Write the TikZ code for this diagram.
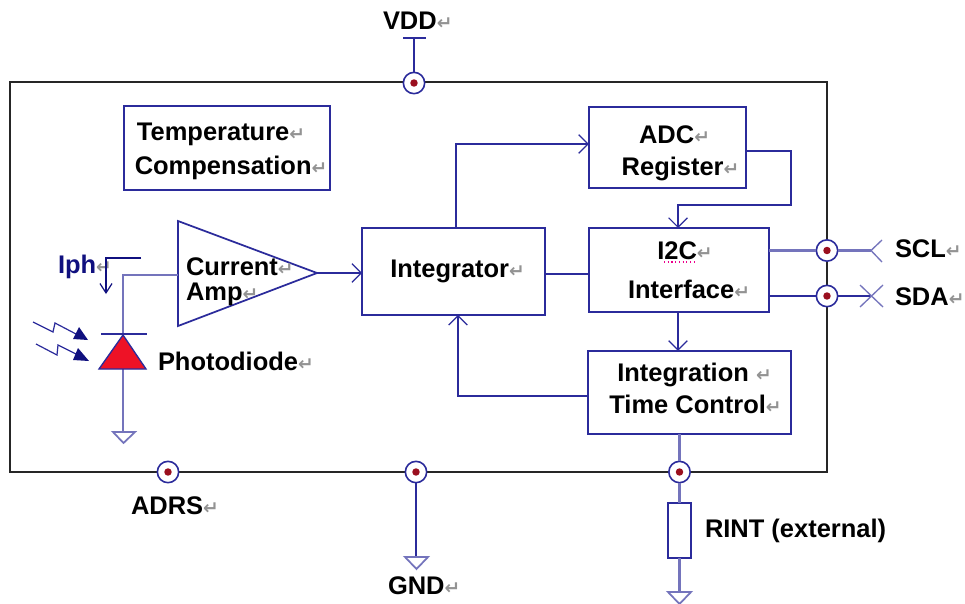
\documentclass[tikz,border=0pt]{standalone}
\usepackage{fontspec}
\setmainfont{Liberation Sans}
\newfontfamily\retfont{DejaVu Sans}
\usetikzlibrary{arrows.meta,shapes.geometric}
\definecolor{wire}{HTML}{2B2B9B}
\definecolor{wirepale}{HTML}{7474BC}
\definecolor{navy}{HTML}{10107F}
\definecolor{frame}{HTML}{262626}
\definecolor{pindot}{HTML}{9A0F1E}
\definecolor{diode}{HTML}{EE1226}
\newcommand{\rt}{{\retfont\fontsize{14pt}{14pt}\selectfont\color{gray!85}↵}}
\newcommand{\nudge}[1]{\hspace*{#1pt}}
\newcommand{\tall}[1]{\rule{0pt}{#1pt}}
\newcommand{\deep}[1]{\rule[-#1pt]{0pt}{#1pt}}
\tikzset{
  x=0.75pt,y=-0.75pt,
  lbl/.style={font=\bfseries\fontsize{19.1pt}{25pt}\selectfont,text=black,inner sep=0pt,outer sep=0pt,align=center},
  blk/.style={draw=wire,line width=1.4pt,fill=white,lbl,minimum width=#1},
  wireline/.style={draw=wire,line width=1.3pt},
  paleline/.style={draw=wirepale,line width=2pt},
  openarrow/.style={-{Straight Barb[length=7pt,width=14pt,line width=0.9pt]}},
  smallarrow/.style={-{Straight Barb[length=7pt,width=9pt,line width=0.9pt]}},
  pin/.style={circle,draw=wire,line width=1.2pt,fill=white,minimum size=16pt,inner sep=0pt,outer sep=0pt},
  gndtri/.style={draw=wirepale,line width=1.3pt,fill=white,line join=miter},
  lightbolt/.style={draw=wire,line width=0.9pt},
  lighthead/.style={fill=navy,draw=none},
}
\begin{document}
\begin{tikzpicture}
\useasboundingbox (0,0) rectangle (965,604);
\fill[white] (0,0) rectangle (965,604);
% chip outline
\draw[frame,line width=1.6pt] (10,82) rectangle (827,472);
% blocks
\node[blk=154.5pt,minimum height=63pt] (temp) at (227,148) {\tall{17.8}Temperature\rt\hspace*{9pt}\\[0.5pt]\nudge{6}Compensation\rt};
\node[blk=118pt,minimum height=61pt] (adc) at (667.5,147.5) {\tall{22.3}\nudge{10.5}ADC\rt\\[-1pt]\nudge{19.5}Register\rt};
\node[blk=137pt,minimum height=65pt] (integ) at (453.5,271.5) {\nudge{6}Integrator\rt};
\node[blk=135pt,minimum height=63pt] (i2c) at (679,270) {\nudge{9}I2C\rt\\[4.25pt]\nudge{15}Interface\rt};
\node[blk=152pt,minimum height=62.5pt] (itc) at (689.5,392.5) {\nudge{7.5}Integration \rt\\[-1pt]\nudge{9}Time Control\rt\deep{6}};
\node[draw=wire,line width=1.4pt,fill=white,minimum width=17pt,minimum height=41pt,inner sep=0pt,outer sep=0pt] (rint) at (679.5,530.5) {};
% amplifier
\coordinate (ampA) at (178,221);
\coordinate (ampB) at (178,326);
\coordinate (ampC) at (317,273);
\draw[draw=wire,line width=1.3pt,line join=miter] (ampA) -- (ampC) -- (ampB) -- cycle;
\node[lbl,anchor=west,align=left] (amp) at (186,282) {Current\rt\\[-6.5pt]Amp\rt};
% pins
\node[pin] (pvdd) at (414,83) {};
\node[pin] (pscl) at (827,250.5) {};
\node[pin] (psda) at (827,296) {};
\node[pin] (padrs) at (168,472) {};
\node[pin] (pgnd) at (416,472) {};
\node[pin] (print) at (679.5,472) {};
\foreach \p in {pvdd,pscl,psda,padrs,pgnd,print}
  \fill[pindot] (\p.center) circle (2.8pt);
% free ends and ports
\coordinate (vddtop) at (414,38);
\coordinate (sclend) at (871,250.5);
\coordinate (sdaend) at (872,296);
\coordinate (gndA) at (416,557);
\coordinate (gndB) at (679.5,592);
\coordinate (gndC) at (123,432);
\coordinate (iphport) at (123,275);
\coordinate (dtop) at (123,335);
\coordinate (dbot) at (123,369);
% top-level labels
\node[lbl,anchor=west] (vddl) at (383,21) {VDD\rt};
\node[lbl,anchor=west] (sclt) at (895,249) {SCL\rt};
\node[lbl,anchor=west] (sdat) at (895,297) {SDA\rt};
\node[lbl,anchor=west] (adrs) at (131,506) {ADRS\rt};
\node[lbl,anchor=west] (gndt) at (388,586) {GND\rt};
\node[lbl,anchor=west] (rintt) at (705,531) {RINT (external)};
\node[lbl,anchor=west] (pd) at (158,361) {Photodiode\rt};
\node[lbl,anchor=west,text=navy] (iph) at (58,267) {Iph{\rt}};
% VDD
\draw[wireline] (pvdd) -- (vddtop);
\draw[wireline] (403,38) -- (426,38);
% block connectors
\draw[wireline,openarrow] (ampC) -- (integ.west |- ampC);
\draw[wireline] (integ.east |- 0,274) -- (i2c.west |- 0,274);
\draw[wireline,openarrow] (integ.north -| 456,0) |- (adc.west |- 0,144);
\draw[wireline,openarrow] (adc.east |- 0,151) -| (791,205) -| (i2c.north -| 678,0);
\draw[wireline,openarrow] (i2c.south -| 678,0) -- (itc.north -| 678,0);
\draw[wireline,openarrow] (itc.west |- 0,396) -| (integ.south -| 458,0);
\draw[paleline] (itc.south -| 679.5,0) -- (print);
% right pins
\draw[paleline] (i2c.east |- 0,250.5) -- (pscl);
\draw[paleline] (pscl) -- (sclend);
\draw[wirepale,line width=1pt] (882,240) -- (sclend) -- (882,262);
\draw[wireline] (i2c.east |- 0,296) -- (psda) -- (sdaend);
\draw[wirepale,line width=1pt] (860,285) -- (883,307) (860,307) -- (883,285);
% bottom pins
\draw[wireline] (pgnd) -- (gndA);
\draw[gndtri] (405,557) -- (428,557) -- (416.5,569) -- cycle;
\draw[paleline] (print) -- (rint);
\draw[paleline] (rint) -- (gndB);
\draw[gndtri] (668,592) -- (691,592) -- (679.5,604) -- cycle;
% photodiode
\draw[paleline] (ampA |- iphport) -- (iphport) -- (dtop);
\draw[paleline] (dbot) -- (gndC);
\draw[gndtri] (113,432) -- (135,432) -- (123.5,443) -- cycle;
\draw[draw=wire,line width=1pt,fill=diode,line join=miter] (123,335) -- (146,369) -- (99,369) -- cycle;
\draw[wire,line width=1.1pt] (101,334) -- (147,334);
% Iph arrow
\draw[navy,line width=1pt,smallarrow] (141,258) -| (106,294);
% light
\draw[lightbolt] (33,322) -- (53,332) -- (55,323) -- (76,334);
\fill[lighthead] (73,339) -- (79,327) -- (88,340) -- cycle;
\draw[lightbolt] (36,344) -- (57,355) -- (58,345) -- (76,354);
\fill[lighthead] (73,360) -- (78,348) -- (89,361) -- cycle;
% spell-check mark
\draw[magenta,line width=0.8pt,dotted] (664,262) -- (695,262);
\end{tikzpicture}
\end{document}
